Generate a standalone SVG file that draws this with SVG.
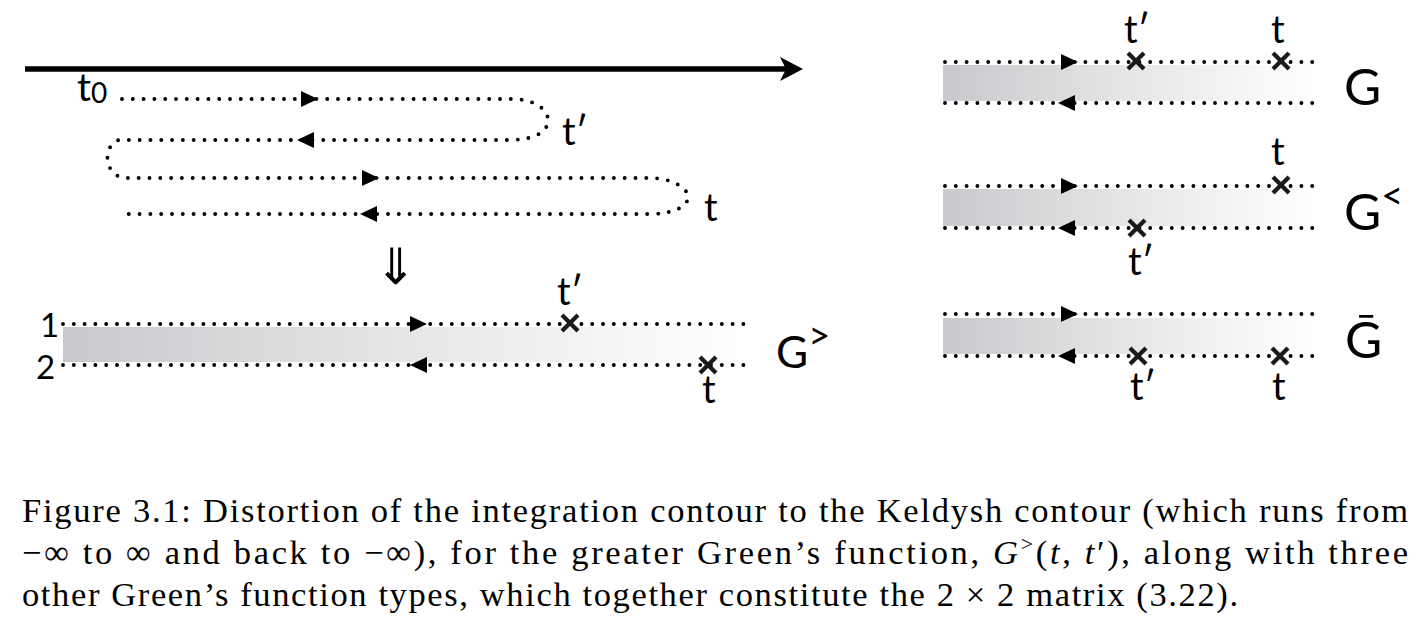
<svg xmlns="http://www.w3.org/2000/svg" xmlns:xlink="http://www.w3.org/1999/xlink" width="1428" height="632" viewBox="0 0 1428 632">
<style>
.dot{fill:none;stroke:#000;stroke-width:3.9;stroke-linecap:round;stroke-dasharray:0 10.8}
.lbl{font-family:Lato,"DejaVu Sans",sans-serif;fill:#000}
.cross{stroke:#1a1a1a;stroke-width:4.2}
.cap{font-family:"Liberation Serif",serif;font-size:34.5px;fill:#000}
</style>
<defs>
<linearGradient id="band" x1="0" y1="0" x2="1" y2="0">
<stop offset="0" stop-color="#c9c9cd"/>
<stop offset="0.5" stop-color="#e6e6e8"/>
<stop offset="1" stop-color="#ffffff"/>
</linearGradient>
<path id="ar" d="M0,0 L-17,-8 L-17,8 Z" fill="#000"/>
<g id="x"><line class="cross" x1="-8" y1="-8" x2="8" y2="8"/><line class="cross" x1="-8" y1="8" x2="8" y2="-8"/></g>
</defs>

<g id="time-axis">
<line x1="25" y1="69" x2="790" y2="69" stroke="#000" stroke-width="5.5"/>
<polygon points="780,57 803,69 780,81 786,69" fill="#000"/>
</g>

<g id="connectors">
<path class="dot" d="M122,99 H512 C535,99 548,110 548,120 C548,131 537,139 512,140 H119 C103,145 103,173 123,178 H650 C672,178 688,188 688,197 C688,207 672,214 650,214 H125"/>
<use xlink:href="#ar" transform="translate(318,99)"/>
<use xlink:href="#ar" transform="translate(297,140) scale(-1,1)"/>
<use xlink:href="#ar" transform="translate(379,178)"/>
<use xlink:href="#ar" transform="translate(360,214) scale(-1,1)"/>
</g>

<g id="loop-labels">
<text class="lbl" x="77" y="101" font-size="39">t<tspan font-size="28" dy="2">0</tspan></text>
<text class="lbl" x="562" y="145" font-size="38">t′</text>
<text class="lbl" x="704" y="221" font-size="38">t</text>
<text x="396" y="284" font-family="DejaVu Sans,sans-serif" font-size="50" text-anchor="middle">⇓</text>
</g>

<g id="keldysh-Ggreater">
<rect x="63" y="327" width="685" height="35" fill="url(#band)"/>
<path class="dot" d="M63,324 H748"/>
<path class="dot" d="M63,365 H748"/>
<use xlink:href="#ar" transform="translate(427,324)"/>
<use xlink:href="#ar" transform="translate(410,365) scale(-1,1)"/>
<use xlink:href="#x" transform="translate(570,323)"/>
<use xlink:href="#x" transform="translate(708,365)"/>
<text class="lbl" x="40" y="337" font-size="33">1</text>
<text class="lbl" x="36" y="379" font-size="33">2</text>
<text class="lbl" x="557" y="305" font-size="38">t′</text>
<text class="lbl" x="702" y="403" font-size="38">t</text>
<text class="lbl" x="776" y="368" font-size="44">G<tspan font-size="38" dy="-19">&gt;</tspan></text>
</g>

<g id="panel-G">
<rect x="943" y="65" width="375" height="36" fill="url(#band)"/>
<path class="dot" d="M945,62 H1315"/>
<path class="dot" d="M945,103 H1315"/>
<use xlink:href="#ar" transform="translate(1078,62)"/>
<use xlink:href="#ar" transform="translate(1058,103) scale(-1,1)"/>
<use xlink:href="#x" transform="translate(1136,61)"/>
<use xlink:href="#x" transform="translate(1281,61)"/>
<text class="lbl" x="1124" y="43" font-size="38">t′</text>
<text class="lbl" x="1271" y="43" font-size="38">t</text>
<text class="lbl" x="1344" y="105" font-size="51">G</text>
</g>

<g id="panel-Gless">
<rect x="943" y="189" width="375" height="37" fill="url(#band)"/>
<path class="dot" d="M945,186 H1315"/>
<path class="dot" d="M945,228 H1315"/>
<use xlink:href="#ar" transform="translate(1078,186)"/>
<use xlink:href="#ar" transform="translate(1058,228) scale(-1,1)"/>
<use xlink:href="#x" transform="translate(1281,185)"/>
<use xlink:href="#x" transform="translate(1137,228)"/>
<text class="lbl" x="1271" y="165" font-size="38">t</text>
<text class="lbl" x="1128" y="275" font-size="38">t′</text>
<text class="lbl" x="1344" y="230" font-size="51">G<tspan font-size="38" dy="-21">&lt;</tspan></text>
</g>

<g id="panel-Gbar">
<rect x="943" y="318" width="375" height="36" fill="url(#band)"/>
<path class="dot" d="M945,314 H1315"/>
<path class="dot" d="M945,356 H1315"/>
<use xlink:href="#ar" transform="translate(1078,314)"/>
<use xlink:href="#ar" transform="translate(1058,356) scale(-1,1)"/>
<use xlink:href="#x" transform="translate(1138,356)"/>
<use xlink:href="#x" transform="translate(1280,356)"/>
<text class="lbl" x="1130" y="400" font-size="38">t′</text>
<text class="lbl" x="1272" y="400" font-size="38">t</text>
<text class="lbl" x="1345" y="358" font-size="51">Ḡ</text>
</g>

<g id="caption">
<text class="cap" x="22" y="522" textLength="1386" lengthAdjust="spacing">Figure 3.1: Distortion of the integration contour to the Keldysh contour (which runs from</text>
<text class="cap" x="22" y="564" textLength="1386" lengthAdjust="spacing">−∞ to ∞ and back to −∞), for the greater Green’s function, <tspan font-style="italic">G</tspan><tspan font-size="22" dy="-13">&gt;</tspan><tspan dy="13">(</tspan><tspan font-style="italic">t</tspan>, <tspan font-style="italic">t</tspan>′), along with three</text>
<text class="cap" x="22" y="606" textLength="1216" lengthAdjust="spacing">other Green’s function types, which together constitute the 2 × 2 matrix (3.22).</text>
</g>
</svg>
